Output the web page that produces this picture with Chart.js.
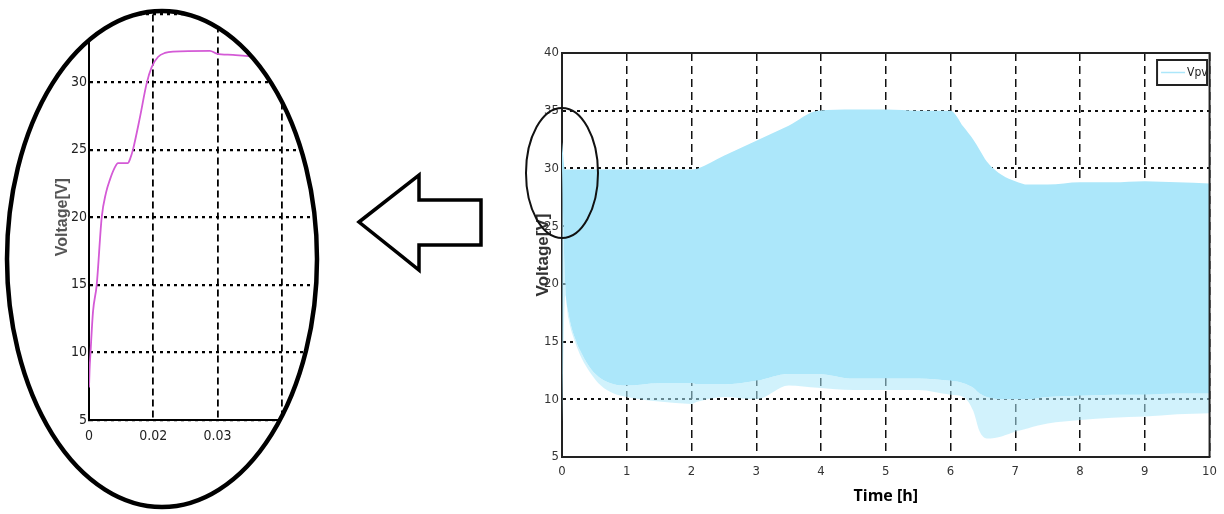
<!DOCTYPE html>
<html>
<head>
<meta charset="utf-8">
<script src="https://cdn.jsdelivr.net/npm/chart.js@4.4.1/dist/chart.umd.min.js"></script>
<style>
html,body{margin:0;padding:0;background:#fff;width:1224px;height:514px;overflow:hidden;}
#zoomWrap{position:absolute;left:0;top:0;width:330px;height:514px;}
#mainWrap{position:absolute;left:500px;top:0;width:724px;height:514px;}
#arrow{position:absolute;left:0;top:0;pointer-events:none;}
</style>
</head>
<body>
<div id="zoomWrap"><canvas id="zoomChart" width="330" height="514"></canvas></div>
<svg id="arrow" width="1224" height="514"><polygon points="359,222 419,175 419,200 481,200 481,245 419,245 419,270" fill="#fff" stroke="#000" stroke-width="3.5" stroke-linejoin="miter"/></svg>
<div id="mainWrap"><canvas id="mainChart" width="724" height="514"></canvas></div>
<script>
// ---------- main chart data (Vpv envelope) ----------
const timeH = [0, 0.05, 0.1, 0.2, 0.3, 0.45, 0.6, 0.8, 1.0, 1.5, 2.0, 2.1, 2.5, 3.0, 3.5, 3.95, 4.5, 5.0, 5.5, 6.0, 6.2, 6.35, 6.45, 6.56, 6.8, 7.0, 7.2, 7.5, 8.0, 8.5, 9.0, 9.5, 10];
const vpvUpper = [32.3, 29.9, 29.9, 29.9, 29.9, 29.9, 29.9, 29.9, 29.9, 29.9, 29.9, 30.0, 31.1, 32.4, 33.7, 35.0, 35.1, 35.1, 35.0, 35.0, 33.6, 32.5, 31.6, 30.6, 29.4, 28.9, 28.6, 28.6, 28.8, 28.8, 28.9, 28.8, 28.7];
const vpvLowerDense = [30, 20, 17.5, 15.3, 14, 12.6, 11.8, 11.3, 11.2, 11.4, 11.4, 11.3, 11.3, 11.6, 12.2, 12.2, 11.8, 11.8, 11.8, 11.6, 11.4, 11.0, 10.5, 10.2, 10.0, 10.0, 10.0, 10.2, 10.3, 10.4, 10.4, 10.5, 10.5];
const vpvLowerMin = [7, 19, 17, 15, 13.6, 12.2, 11.2, 10.5, 10.2, 9.8, 9.6, 9.8, 10.2, 10.0, 11.2, 11.0, 10.8, 10.8, 10.8, 10.4, 10.2, 9.0, 7.2, 6.6, 6.8, 7.2, 7.5, 7.9, 8.2, 8.4, 8.5, 8.7, 8.8];
const mainXMin = 0, mainXMax = 10, mainYMin = 5, mainYMax = 40;
const legendLabel = 'Vpv';

// ---------- zoomed inset data (start-up transient) ----------
const zoomTime = [0.01, 0.01008, 0.01026, 0.01062, 0.0112, 0.01198, 0.01264, 0.01327, 0.01404, 0.01451, 0.01607, 0.01638, 0.01684, 0.01793, 0.01897, 0.01975, 0.02073, 0.02182, 0.02306, 0.02882, 0.02986, 0.0324, 0.03504, 0.0397];
const zoomVolt = [7.4, 8.6, 10.2, 13.0, 15.0, 20.0, 21.8, 22.8, 23.7, 24.0, 24.0, 24.3, 25.0, 27.4, 29.9, 31.1, 31.85, 32.15, 32.25, 32.3, 32.1, 32.0, 31.9, 31.8];
const zoomXTicks = [0.01, 0.02, 0.03, 0.04];
const zoomXTickLabels = ['0', '0.02', '0.03', ''];
const zoomYMin = 5, zoomYMax = 35;

const narrow = "'Liberation Sans Narrow','DejaVu Sans Condensed','Arial Narrow',sans-serif";
Chart.defaults.animation = false;
Chart.defaults.events = [];

const toXY = (xs, ys) => xs.map((x, i) => ({x, y: ys[i]}));

// ---------- left inset chart ----------
const ellipseClip = {
  id: 'ellipseClip',
  beforeDraw(chart, args, o) {
    const c = chart.ctx;
    c.save();
    c.beginPath();
    c.ellipse(o.cx, o.cy, o.rx, o.ry, 0, 0, Math.PI * 2);
    c.clip();
  },
  afterDraw(chart, args, o) {
    const c = chart.ctx;
    c.restore();
    c.save();
    c.beginPath();
    c.ellipse(o.cx, o.cy, o.rx, o.ry, 0, 0, Math.PI * 2);
    c.lineWidth = o.lw;
    c.strokeStyle = '#000';
    c.stroke();
    c.restore();
  }
};

new Chart(document.getElementById('zoomChart'), {
  type: 'line',
  data: {
    datasets: [{
      label: 'Vpv (zoom)',
      data: toXY(zoomTime, zoomVolt),
      borderColor: '#d45ad6',
      borderWidth: 1.8,
      pointRadius: 0,
      cubicInterpolationMode: 'monotone',
      fill: false
    }]
  },
  options: {
    responsive: false,
    layout: {padding: {left: 0, top: 14.4, right: 16, bottom: 0}},
    plugins: {
      legend: {display: false},
      tooltip: {enabled: false},
      ellipseClip: {cx: 162, cy: 259, rx: 155, ry: 248, lw: 4.5}
    },
    scales: {
      x: {
        type: 'linear', min: 0.01, max: 0.045,
        afterBuildTicks(s) { s.ticks = zoomXTicks.map(v => ({value: v})); },
        ticks: {
          callback: (v, i) => zoomXTickLabels[i],
          font: {family: narrow, size: 14}, color: '#222', padding: 8,
          maxRotation: 0, autoSkip: false
        },
        grid: {color: '#000', lineWidth: 1.8, drawTicks: false},
        border: {display: true, color: '#000', width: 2, dash: [7, 4]},
        afterFit(s) { s.height = 94; }
      },
      y: {
        type: 'linear', min: zoomYMin, max: zoomYMax,
        ticks: {stepSize: 5, font: {family: narrow, size: 14}, color: '#222', padding: 2},
        grid: {color: '#000', lineWidth: 2.2, drawTicks: false},
        border: {display: true, color: '#000', width: 2, dash: [3, 4]},
        title: {display: true, text: 'Voltage[V]', color: '#555',
          font: {family: "'Liberation Sans',Arial,sans-serif", size: 16, weight: 'bold'},
          padding: {top: 53.4, bottom: 0}},
        afterFit(s) { s.width = 89; }
      }
    }
  },
  plugins: [ellipseClip]
});

// ---------- right main chart ----------
const frameAndDecor = {
  id: 'frameAndDecor',
  afterDraw(chart, args, o) {
    const c = chart.ctx;
    const a = chart.chartArea;
    c.save();
    // top and right borders
    c.strokeStyle = '#222';
    c.lineWidth = 2;
    c.beginPath();
    c.moveTo(a.left, a.top);
    c.lineTo(a.right, a.top);
    c.lineTo(a.right, a.bottom);
    c.stroke();
    // legend box (top-right, inside the plot area)
    const bx = a.right - 52.5, by = a.top + 7, bw = 50, bh = 25;
    c.fillStyle = '#fff';
    c.fillRect(bx, by, bw, bh);
    c.lineWidth = 2;
    c.strokeStyle = '#222';
    c.strokeRect(bx, by, bw, bh);
    c.strokeStyle = chart.data.datasets[2].backgroundColor;
    c.lineWidth = 1.5;
    c.beginPath();
    c.moveTo(bx + 4, by + bh / 2);
    c.lineTo(bx + 28, by + bh / 2);
    c.stroke();
    c.fillStyle = '#222';
    c.font = '12px ' + narrow;
    c.textBaseline = 'middle';
    c.textAlign = 'left';
    c.fillText(legendLabel, bx + 30, by + bh / 2 + 0.5);
    // small ellipse marking the zoomed start-up region
    const ex = chart.scales.x.getPixelForValue(0);
    const ey = chart.scales.y.getPixelForValue(29.6);
    c.beginPath();
    c.ellipse(ex, ey, 36, 65, 0, 0, Math.PI * 2);
    c.strokeStyle = '#111';
    c.lineWidth = 2;
    c.stroke();
    c.restore();
  }
};

const fillMain = 'rgb(172,231,250)';
const fillFringe = 'rgba(172,231,250,0.55)';

new Chart(document.getElementById('mainChart'), {
  type: 'line',
  data: {
    datasets: [
      {label: 'lowerMin', data: toXY(timeH, vpvLowerMin), borderWidth: 0, pointRadius: 0, fill: false, borderColor: 'rgba(0,0,0,0)', cubicInterpolationMode: 'monotone'},
      {label: 'lowerDense', data: toXY(timeH, vpvLowerDense), borderWidth: 0, pointRadius: 0, fill: '-1', backgroundColor: fillFringe, borderColor: 'rgba(0,0,0,0)', cubicInterpolationMode: 'monotone'},
      {label: legendLabel, data: toXY(timeH, vpvUpper), borderWidth: 0, pointRadius: 0, fill: '-1', backgroundColor: fillMain, borderColor: fillMain, cubicInterpolationMode: 'monotone'}
    ]
  },
  options: {
    responsive: false,
    layout: {padding: {left: 0, top: 53, right: 12.5, bottom: 0}},
    plugins: {legend: {display: false}, tooltip: {enabled: false}},
    scales: {
      x: {
        type: 'linear', min: mainXMin, max: mainXMax,
        ticks: {stepSize: 1, font: {family: narrow, size: 13}, color: '#333', padding: 7, maxRotation: 0},
        grid: {color: '#111', lineWidth: 1.5, drawTicks: false},
        border: {display: true, color: '#222', width: 2, dash: [8, 5]},
        title: {display: true, text: 'Time [h]', color: '#000',
          font: {family: "'Open Sans',sans-serif", size: 16, weight: 'bold'},
          padding: {top: 0, bottom: 8.4}},
        afterFit(s) { s.height = 57; }
      },
      y: {
        type: 'linear', min: mainYMin, max: mainYMax,
        ticks: {stepSize: 5, font: {family: narrow, size: 13}, color: '#333', padding: 3},
        grid: {color: '#111', lineWidth: 2, drawTicks: false},
        border: {display: true, color: '#222', width: 2, dash: [3, 4]},
        title: {display: true, text: 'Voltage[V]', color: '#333',
          font: {family: "'Liberation Sans',Arial,sans-serif", size: 17, weight: 'bold'},
          padding: {top: 32.8, bottom: 0}},
        afterFit(s) { s.width = 62; }
      }
    }
  },
  plugins: [frameAndDecor]
});
</script>
</body>
</html>
